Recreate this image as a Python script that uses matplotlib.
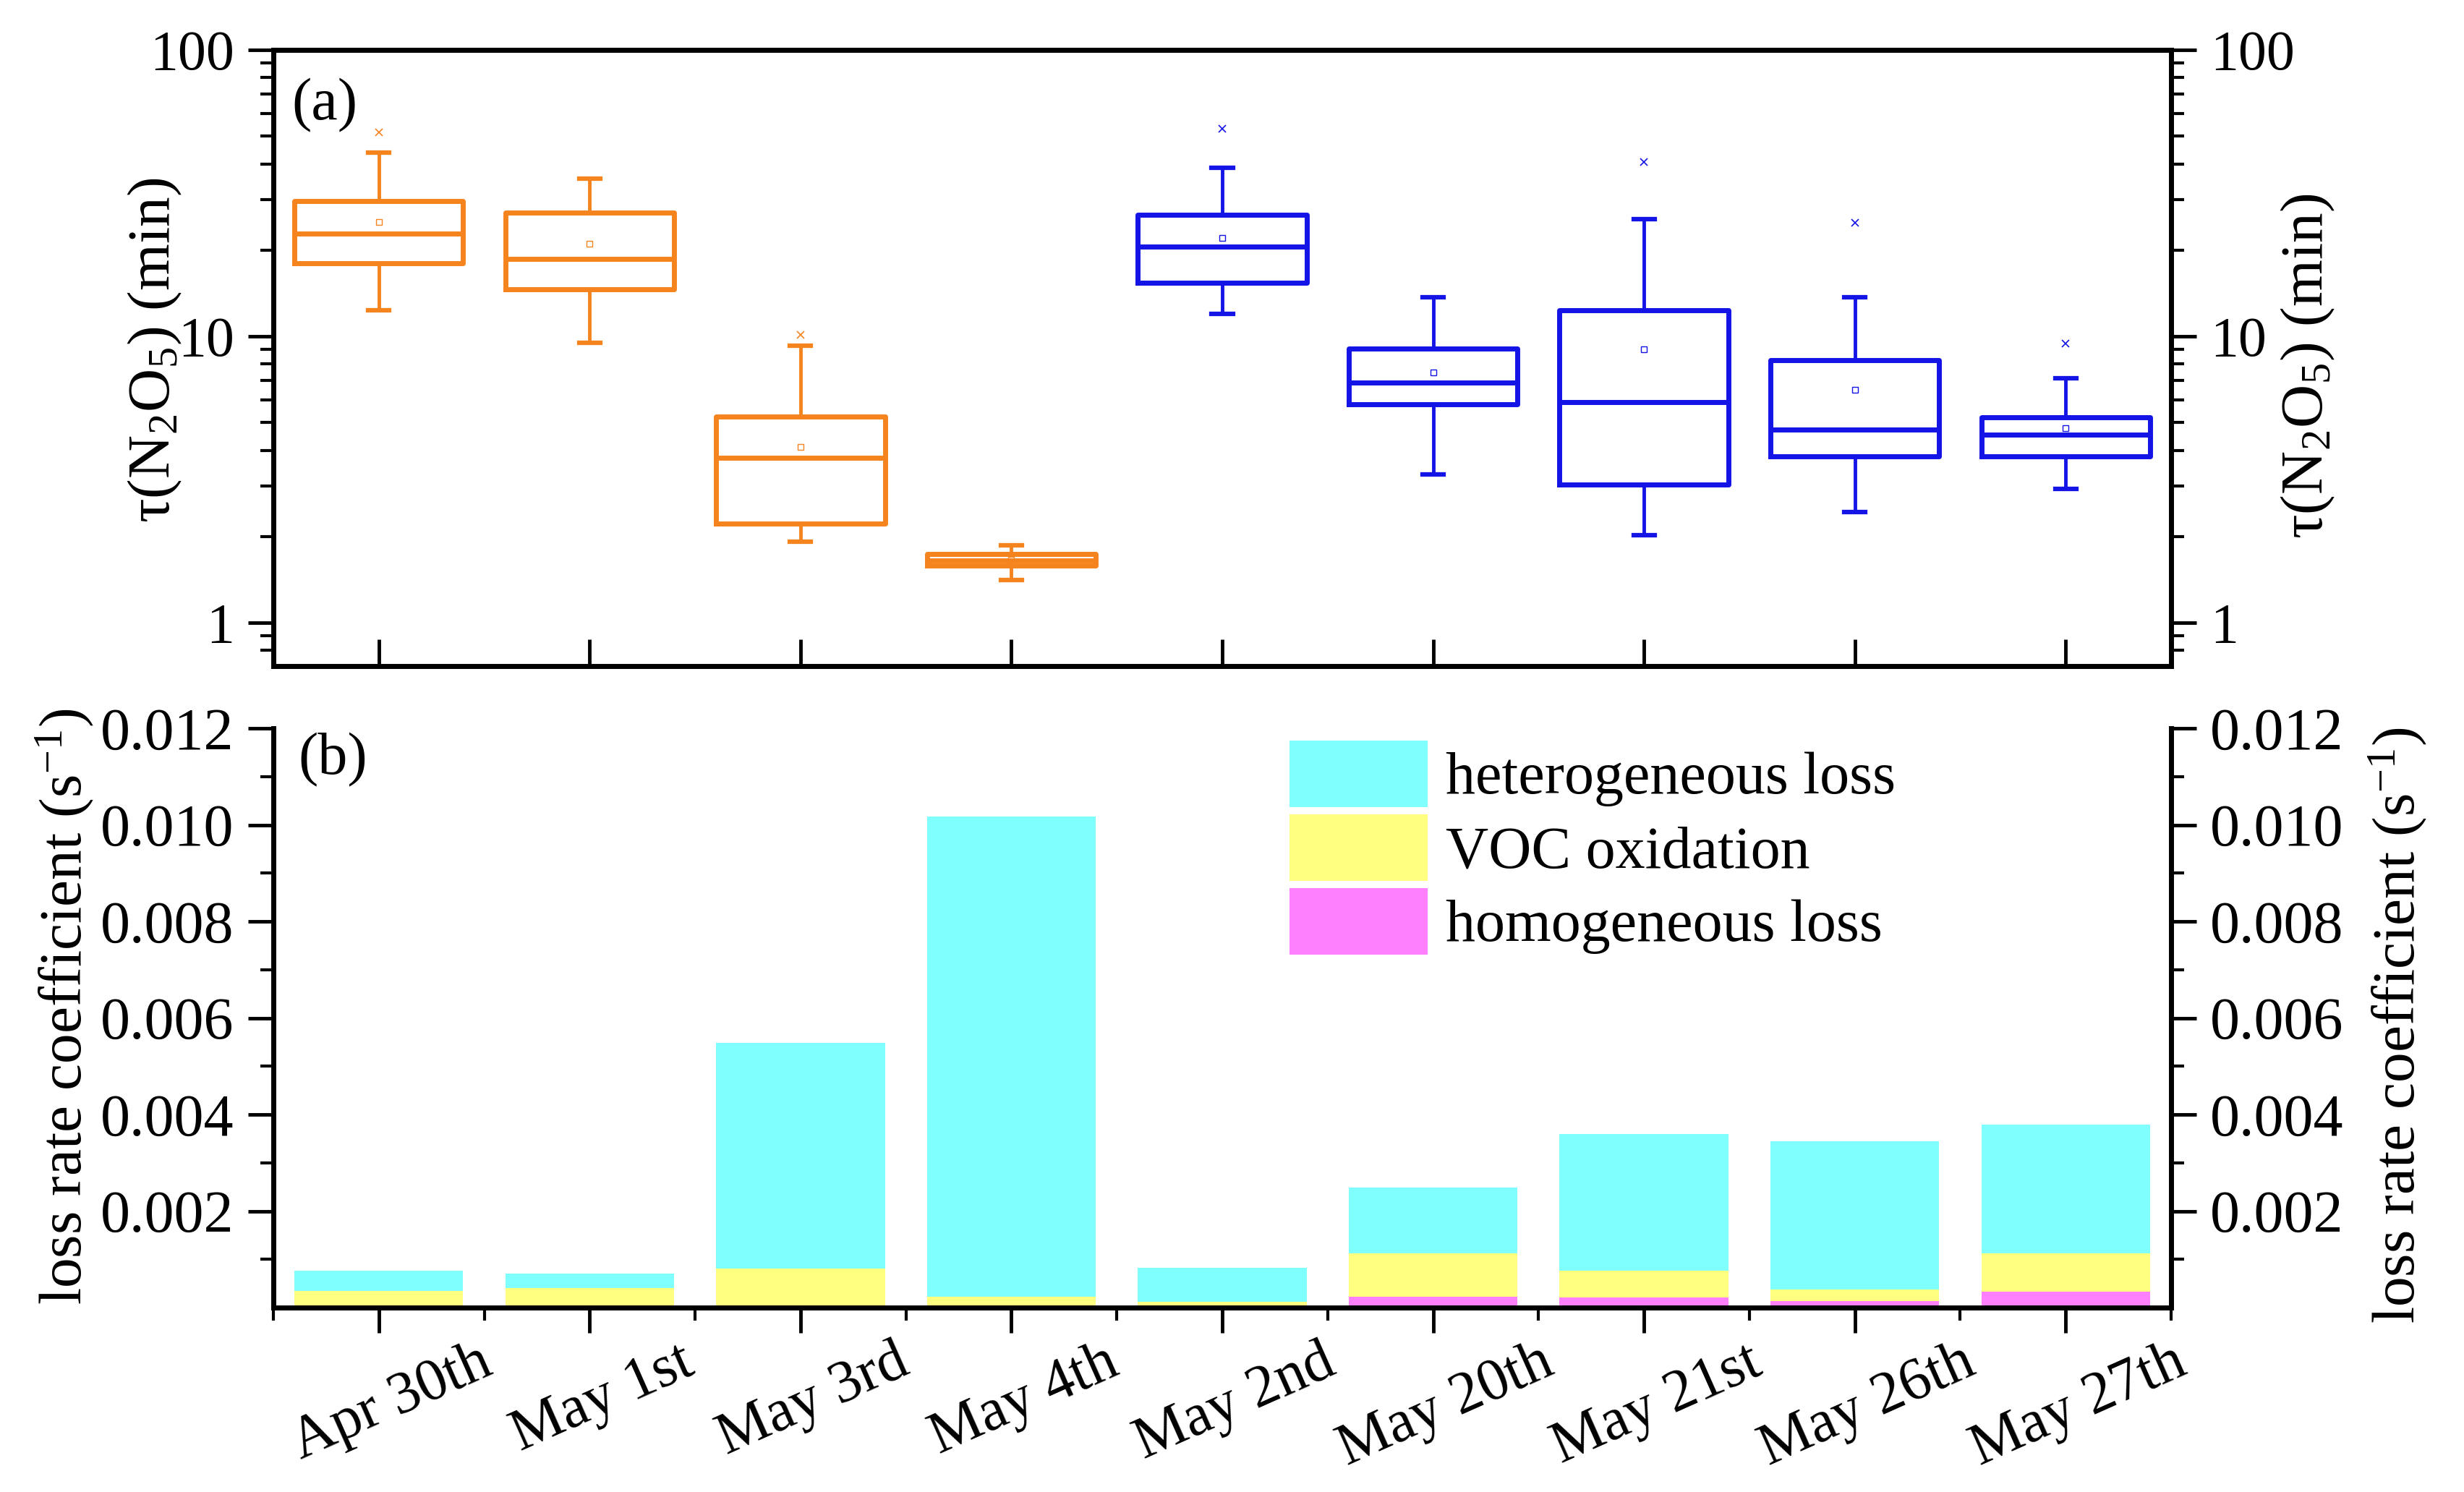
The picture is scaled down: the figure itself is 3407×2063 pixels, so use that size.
import numpy as np
import matplotlib
matplotlib.use("Agg")
import matplotlib.pyplot as plt
from matplotlib.ticker import LogLocator, NullFormatter, MultipleLocator, FixedLocator
from matplotlib.transforms import ScaledTranslation

plt.rcParams['font.family'] = ['Liberation Serif', 'DejaVu Serif']
plt.rcParams['mathtext.fontset'] = 'custom'
plt.rcParams['mathtext.rm'] = 'Liberation Serif'
plt.rcParams['mathtext.it'] = 'Liberation Serif:italic'

# ---- data ----
days = ['Apr 30th', 'May 1st', 'May 3rd', 'May 4th', 'May 2nd',
        'May 20th', 'May 21st', 'May 26th', 'May 27th']

tau_whislo = [12.3, 9.5, 1.92, 1.41, 12.0, 3.30, 2.02, 2.43, 2.94]
tau_q1 = [18.0, 14.6, 2.22, 1.58, 15.4, 5.80, 3.03, 3.80, 3.80]
tau_med = [22.8, 18.6, 3.77, 1.65, 20.6, 6.91, 5.90, 4.73, 4.53]
tau_q3 = [29.7, 27.0, 5.26, 1.74, 26.5, 9.06, 12.3, 8.24, 5.22]
tau_whishi = [43.8, 35.5, 9.3, 1.86, 38.7, 13.7, 25.7, 13.7, 7.16]
tau_mean = [25.1, 21.1, 4.12, 1.66, 22.0, 7.47, 9.0, 6.49, 4.78]
tau_outlier = [51.6, None, 10.1, None, 53.1, None, 40.6, 24.9, 9.45]

k_homo = [0.00003, 0.00003, 0.00003, 0.00002, 0.00002, 0.00022, 0.00021, 0.00013, 0.00033]
k_voc = [0.00031, 0.00038, 0.00078, 0.00020, 0.00010, 0.00091, 0.00055, 0.00024, 0.00079]
k_het = [0.00042, 0.00030, 0.00468, 0.00995, 0.00070, 0.00135, 0.00284, 0.00307, 0.00267]

orange = '#F5841F'
blue = '#1414E6'
c_het = '#80FFFF'
c_voc = '#FFFF80'
c_homo = '#FF80FF'

W, H = 3407, 2063
fig = plt.figure(figsize=(W / 100, H / 100), dpi=100)

L, R = 378, 3002
ax1 = fig.add_axes([L / W, 1 - 921 / H, (R - L) / W, (921 - 69) / H])
ax2 = fig.add_axes([L / W, 1 - 1808 / H, (R - L) / W, (1808 - 1007) / H])

x = np.arange(len(days))

# ---- (a) box plots ----
stats = []
for i in range(len(days)):
    stats.append(dict(whislo=tau_whislo[i], q1=tau_q1[i], med=tau_med[i],
                      q3=tau_q3[i], whishi=tau_whishi[i], mean=tau_mean[i],
                      fliers=[] if tau_outlier[i] is None else [tau_outlier[i]]))

for idx, col in [(range(0, 4), orange), (range(4, 9), blue)]:
    idx = list(idx)
    ax1.bxp([stats[i] for i in idx], positions=x[idx], widths=0.8,
            showmeans=True, capwidths=0.1,
            boxprops=dict(color=col, linewidth=5),
            medianprops=dict(color=col, linewidth=5),
            whiskerprops=dict(color=col, linewidth=3.5),
            capprops=dict(color=col, linewidth=4.5),
            meanprops=dict(marker='s', markersize=6, markerfacecolor='none',
                           markeredgecolor=col, markeredgewidth=1),
            flierprops=dict(marker='x', markersize=7, markeredgecolor=col,
                            markeredgewidth=1.2))

ax1.set_yscale('log')
ax1.set_ylim(0.706, 100)
ax1.set_xlim(-0.5, 8.5)
ax1.set_yticks([1, 10, 100])
ax1.set_yticklabels(['1', '10', '100'])
ax1.yaxis.set_minor_locator(LogLocator(base=10, subs=np.arange(2, 10)))
ax1.yaxis.set_minor_formatter(NullFormatter())
ax1.set_xticks(x)
ax1.set_xticklabels([])
ax1.tick_params(axis='x', direction='in', length=27, width=3.5, top=False)
ax1.tick_params(axis='y', which='major', direction='out', length=25, width=3.5,
                labelsize=56, pad=14, left=True, right=True, labelleft=True, labelright=True)
ax1.tick_params(axis='y', which='minor', direction='out', length=13, width=3,
                left=True, right=True)
for s in ax1.spines.values():
    s.set_linewidth(5)

# ---- (b) stacked bars ----
bottom_voc = np.array(k_homo)
bottom_het = bottom_voc + np.array(k_voc)
b_homo = ax2.bar(x, k_homo, width=0.8, color=c_homo, linewidth=0)
b_voc = ax2.bar(x, k_voc, width=0.8, bottom=bottom_voc, color=c_voc, linewidth=0)
b_het = ax2.bar(x, k_het, width=0.8, bottom=bottom_het, color=c_het, linewidth=0)

ax2.set_xlim(-0.5, 8.5)
ax2.set_ylim(0, 0.012)
ax2.set_yticks([0.002, 0.004, 0.006, 0.008, 0.010, 0.012])
ax2.set_yticklabels(['0.002', '0.004', '0.006', '0.008', '0.010', '0.012'])
ax2.yaxis.set_minor_locator(FixedLocator([0.001, 0.003, 0.005, 0.007, 0.009, 0.011]))
ax2.set_xticks(x)
ax2.set_xticklabels(days, rotation=24, ha='center')
ax2.xaxis.set_minor_locator(MultipleLocator(1, offset=0.5))
ax2.spines['top'].set_visible(False)
for s in ['left', 'right', 'bottom']:
    ax2.spines[s].set_linewidth(5)
ax2.tick_params(axis='x', which='major', direction='out', length=25, width=3.5,
                labelsize=59, pad=2)
ax2.tick_params(axis='x', which='minor', direction='out', length=13, width=3)
ax2.tick_params(axis='y', which='major', direction='out', length=25, width=3.5,
                labelsize=59, pad=14, left=True, right=True, labelleft=True, labelright=True)
ax2.tick_params(axis='y', which='minor', direction='out', length=13, width=3,
                left=True, right=True)

shift = ScaledTranslation(18 / 100, 0, fig.dpi_scale_trans)
for lab in ax2.get_xticklabels():
    lab.set_transform(lab.get_transform() + shift)

ax2.legend([b_het, b_voc, b_homo],
           ['heterogeneous loss', 'VOC oxidation', 'homogeneous loss'],
           loc='upper left', bbox_to_anchor=(1783 / W, 1 - 1024 / H),
           bbox_transform=fig.transFigure, frameon=False, fontsize=59,
           handlelength=2.33, handleheight=1.35, labelspacing=0.12,
           handletextpad=0.3, borderpad=0, borderaxespad=0)

# ---- axis titles and panel tags ----
tau_lab = 'τ(N$_2$O$_5$) (min)'
k_lab = 'loss rate coefficient (s$^{-1}$)'
fig.text(214 / W, 1 - 484 / H, tau_lab, rotation=90, ha='center', va='center', fontsize=60)
fig.text(3191 / W, 1 - 506 / H, tau_lab, rotation=90, ha='center', va='center', fontsize=60)
fig.text(90 / W, 1 - 1392 / H, k_lab, rotation=90, ha='center', va='center', fontsize=60)
fig.text(3316 / W, 1 - 1418 / H, k_lab, rotation=90, ha='center', va='center', fontsize=60)
fig.text(403 / W, 1 - 146 / H, '(a)', ha='left', va='center', fontsize=59)
fig.text(412 / W, 1 - 1051 / H, '(b)', ha='left', va='center', fontsize=59)

fig.savefig('out.png', dpi=100)
